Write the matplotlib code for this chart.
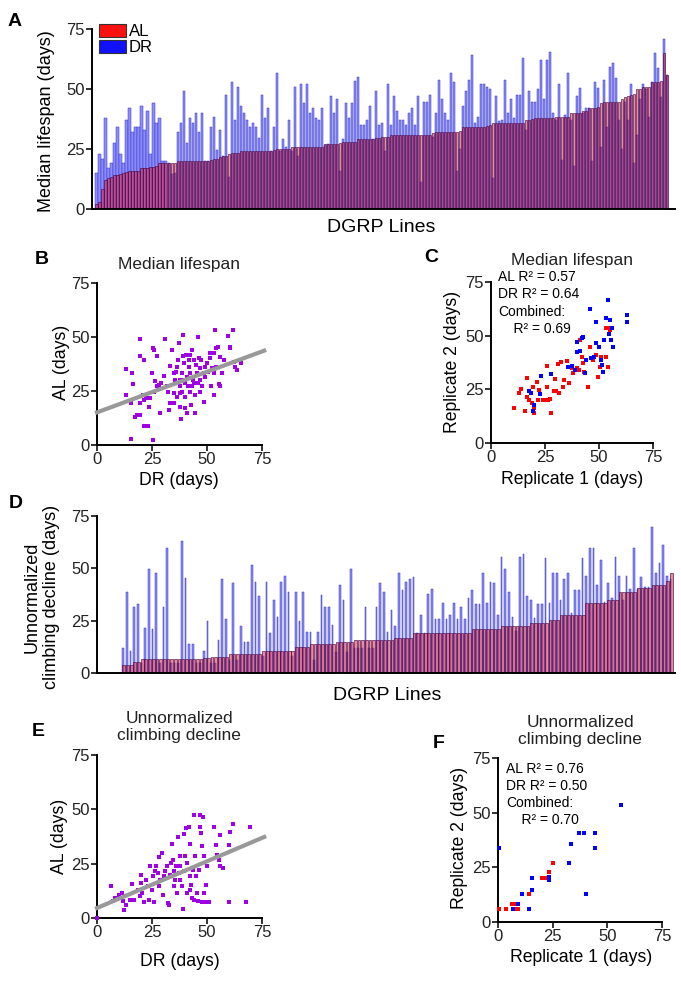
import numpy as np
import matplotlib.pyplot as plt
from matplotlib.patches import Patch

plt.rcParams['font.family'] = ['Liberation Sans', 'DejaVu Sans']

W, H = 681, 984

# ---- A: median lifespan per DGRP line (AL sorted, DR matched) ----
lifespan_al = [
    2, 3, 8.5, 12, 13, 13.5, 14, 14, 14.5, 15, 15.5, 16, 16, 16, 16, 17, 17, 17, 17.5, 17.5,
    18, 19, 19, 19, 19, 19, 19, 20, 20, 20, 20, 20, 20, 20, 20, 20, 20, 20, 20.5, 21,
    21, 21.5, 22, 22, 23, 23.5, 23.5, 23.5, 24, 24, 24, 24, 24, 24, 24, 24, 24, 24, 24, 24.5,
    25, 25, 25, 25, 25, 26, 26, 26, 26, 26, 26, 26, 26, 26, 26, 26, 27, 27, 27, 27,
    27, 27.5, 28, 28, 28, 28, 28, 29, 29, 29, 29, 29, 29, 29.5, 29.5, 30,
    30, 30, 31, 31, 31, 31, 31, 31, 31, 31, 31, 31, 31, 31, 31, 31, 31.5, 32, 32, 32,
    32, 32, 32, 32, 32, 32.5, 34, 34, 34, 34, 34, 34, 34, 34, 34.5, 35, 35.7, 35.7, 35.7, 35.7,
    35.7, 35.7, 35.7, 35.7, 35.7, 35.7, 36, 37, 37, 37.5, 38, 38, 38, 38, 38, 38, 38, 38.5, 38.5, 38.5,
    38.5, 38.5, 40, 40, 40, 40, 41, 41, 42, 42, 42, 42.5, 44, 44.5, 44.5, 44.5, 44.5, 44.5, 44.5, 46,
    46.5, 47, 47.5, 48, 50, 50, 51, 51, 51, 53, 53, 53, 53.5, 65, 56]
lifespan_dr = [
    15, 23, 20.7, 38, 17, 19, 27.6, 34, 23, 19, 37, 42, 32, 34, 34, 43, 33, 41, 23, 44,
    36, 38, 20, 20, 19, 14.6, 15, 32, 36, 49, 27.6, 38, 36, 40, 32, 40, 20, 20, 34, 38.5,
    24.6, 33, 22, 47.5, 13.5, 53, 37, 50.7, 43, 40, 37, 34, 35.7, 34, 29.4, 47.5, 38, 42, 24, 34,
    56.5, 24, 29, 26, 37, 24, 50.7, 22, 52, 44, 52, 40, 42, 38, 37, 42, 26.5, 27, 47, 40,
    46, 16, 29, 44, 38, 44, 53.3, 55, 35, 35, 37, 43, 29, 49, 35, 36,
    24, 52, 35, 47, 41, 37, 37, 35, 40, 42, 35, 47, 11.4, 44.7, 44.7, 47.5, 30, 40, 53.8, 46,
    40, 37, 56.5, 53, 16, 25, 43, 49, 53.8, 64, 35.7, 38.5, 52, 52, 51, 50, 12.8, 47, 36.5, 37,
    53.8, 40, 46, 37.8, 47.5, 47.5, 62.8, 33, 49, 44.7, 44.7, 50, 62, 46, 62, 65.6, 40, 37, 52, 20.4,
    39, 56.5, 37, 18, 47, 50.5, 40, 42, 42, 20, 53, 50.5, 26, 53.8, 34.3, 59.3, 60.7, 54.7, 37, 25,
    44.7, 37, 52, 19, 30.8, 46, 52, 50, 38.5, 53, 65, 58.6, 46.8, 71, 56]

# ---- B: median lifespan, DR vs AL per line ----
b_dr = [13.3, 13.3, 15.9, 16.4, 15.6, 15.5, 17.4, 19.4, 19.4, 19.7, 21.5, 20.8, 21.2, 21.5, 23, 23.5,
        24.2, 25, 25.3, 26, 27.3, 27.3, 25.8, 25.3, 28, 28.5, 30.3, 31.1, 32.3, 32.6, 34.1, 33.3,
        33.3, 34.8, 35.1, 35.6, 36, 36.4, 36.8, 37.1, 37.6, 37.9, 37.9, 38.3, 39.1, 38.6, 39.1, 39.4,
        39.7, 39.8, 40.1, 40.6, 40.9, 41.2, 41.7, 42.1, 42.4, 42.4, 42.7, 43.2, 43.6, 43.9, 44.2, 44.7,
        45.1, 45.5, 45.8, 45.9, 46.2, 46.7, 47, 47.3, 47.7, 48.5, 48.8, 49.2, 50, 50.3, 51.2, 51.2,
        51.8, 52.3, 52.7, 53, 53.3, 53.8, 54.2, 54.2, 54.8, 55.3, 55.8, 56.8, 57.6, 59.4, 60.3, 60.6,
        61.8, 62.1, 62.9, 63.6, 65.5, 34.8, 36.4, 40.9, 44.7, 47, 38.6, 40.1, 41.7, 37.9, 43.2, 49.2,
        56, 53, 31.8, 29.3, 26.5, 22.1, 19.7, 18.2]
b_al = [35.2, 23.2, 33.2, 28.1, 19.3, 2.8, 13.1, 49, 41.4, 19.3, 39.4, 23.2, 20.9, 8.8, 8.8, 17.8,
        21.6, 33.2, 44.8, 44, 41, 27.1, 24.7, 2.3, 27.8, 14.7, 32, 49, 24.7, 16.2, 44, 36.6,
        19.6, 19.3, 24, 30.1, 34, 36.3, 39.4, 47.1, 24, 17.8, 27.5, 11.9, 51, 33.2, 41, 37.9,
        30.1, 22.4, 17, 41.7, 31.7, 27.1, 36.3, 41.7, 33.2, 24.7, 18.6, 44, 30.1, 39.4, 28.6, 23.2,
        37.1, 33.2, 28.6, 50.2, 40.2, 30.1, 35.6, 39.4, 27.1, 20.1, 33.2, 31.7, 37.9, 34, 40.2, 42.5,
        27.1, 35.6, 34.8, 23.2, 33.2, 53.3, 36.3, 44.8, 45.6, 28.3, 27.1, 33.2, 39.4, 50.6, 44.8, 45.3,
        53.3, 38.2, 36.3, 34.5, 37.9, 33.2, 22.4, 14.7, 14.7, 24.7, 24.7, 28.6, 39.4, 30.1, 27.1, 36.3,
        40.7, 42.5, 27.1, 28.6, 29.4, 21.6, 13.9, 13.9]
b_fit = (0.376, 15.1)  # slope, intercept of the grey line

# ---- C: replicate agreement, median lifespan ----
c_al_rep1 = [10.6, 13.9, 13.1, 15.7, 16.8, 16.5, 17.7, 18.8, 19.9, 19.9, 19.6, 21.1, 22.3, 21.9, 24.3,
             25.4, 26.5, 25.7, 26, 27.6, 27.3, 29.1, 29.6, 30.3, 31.1, 31.6, 32.2, 33.4, 33.9, 35,
             36.2, 37.3, 38, 39.6, 40, 40.8, 41.4, 41.9, 42.7, 43, 45, 45.7, 47.3, 48.8, 50.4, 50.7,
             53.1, 53.4, 55, 55.3, 54.2, 49.5]
c_al_rep2 = [16.1, 25, 23.2, 14.7, 30.1, 21.6, 20.1, 18.6, 16.2, 14.2, 26.3, 28.6, 24.7, 20.1, 20.1,
             20.1, 20.1, 26.3, 35.9, 14.2, 20.4, 24, 29.7, 24, 36.8, 23.2, 37.9, 26.3, 29.4, 38.3,
             27.8, 34.8, 32.5, 42.5, 34.8, 34, 47.9, 40.2, 37.1, 33.2, 26.3, 44.5, 38.6, 41, 35.6, 40.2,
             40.2, 53.6, 52.6, 53.8, 35.6, 30.9]
c_dr_rep1 = [17.7, 18.5, 19.9, 19.6, 22.6, 23, 27.6, 35.7, 37.3, 38.8, 39.6, 40, 41.4, 41.9, 42.7,
             43.4, 43.9, 45.7, 46.5, 47.6, 48.8, 50, 51.1, 51.6, 51.9, 52.2, 53.1, 54.2, 55, 54.7,
             55.7, 56.2, 56.5, 63.1, 63.1, 48.8]
c_dr_rep2 = [24, 23.2, 17.8, 14.7, 22.9, 31.2, 32.2, 35.6, 35.9, 34, 47.1, 42.5, 43, 48.7, 49.2,
             32.5, 38.6, 62.6, 39.4, 40.2, 56.4, 44.8, 38.6, 36.3, 33.2, 47.9, 58.4, 66.5, 57.2, 51,
             47.9, 53.8, 44.8, 59.5, 56.4, 46.4]
c_stats = ["AL R\u00b2 = 0.57", "DR R\u00b2 = 0.64", "Combined:", "    R\u00b2 = 0.69"]

# ---- D: unnormalized climbing decline per DGRP line ----
climb_al = [
    3.8, 3.8, 3.8, 5.4, 5.4, 6.7, 6.7, 6.7, 6.7, 6.7, 6.7, 6.7, 6.7, 6.7, 6.7, 6.7, 6.7, 6.7, 6.7, 6.7,
    6.7, 6.7, 7, 7, 7.8, 7.8, 7.8, 7.8, 7.8, 9, 9, 9, 9, 9, 9, 9, 9, 9, 10.7, 10.7,
    10.7, 10.7, 10.7, 10.7, 10.7, 10.7, 10.7, 12.6, 12.6, 12.6, 12.6, 13.9, 13.9, 13.9, 13.9, 13.9, 13.9, 13.9, 15, 15,
    15, 15, 15, 15.8, 15.8, 15.8, 16, 16, 16, 16, 16, 16, 16, 16,
    16.6, 16.6, 16.6, 16.6, 16.6, 19.3, 19.3, 19.3, 19.3, 19.3, 19.3, 19.3, 19.3, 19.3, 19.3, 19.3,
    19.3, 19.3, 19.3, 19.3, 19.3, 20.9, 20.9, 20.9, 20.9, 20.9, 20.9, 20.9, 20.9, 22.4, 22.4, 22.4,
    22.4, 22.4, 22.4, 22.4, 22.4, 24, 24, 24, 24, 24, 25.3, 25.3, 25.3, 27.7, 27.7, 27.7, 27.7, 27.7,
    27.7, 27.7, 33.3, 33.3, 33.3, 33.3, 33.3, 33.3, 35, 35, 35, 38.8, 38.8, 38.8, 38.8, 38.8, 40.4, 40.4,
    40.4, 40.4, 42, 42, 42, 42, 44, 48]
climb_dr = [
    11.8, 38.8, 10.7, 31.7, 33, 5, 21.3, 49.7, 20.9, 47.9, 5, 31.7, 59.9, 5, 5, 5, 63, 45.5, 13.9, 13.9,
    5, 5, 10.7, 25, 5, 5, 15.8, 44.9, 25.6, 6, 42.8, 6, 22.6, 15, 15, 51.6, 43.6, 36.8, 8, 43.6,
    19.3, 34.9, 26.9, 43.6, 46.3, 38.8, 8, 38.8, 25, 38.8, 19.7, 19.7, 6, 19.7, 37.3, 31.7, 31.7, 22.9, 10, 42,
    34.9, 10, 49.7, 12, 12, 12, 31.7, 12, 12, 31.4, 42.8, 38.8, 19.7, 30,
    22.4, 47.9, 39.6, 43.6, 44.7, 46, 18.9, 27.7, 18.9, 37.6, 40, 25.6, 25.6, 33.6, 25.6, 27.7,
    33.6, 25.6, 31.7, 25.6, 35.7, 39.6, 32.8, 32.8, 47.9, 33.6, 43.6, 42.8, 27.7, 55.6, 49.5, 38.8,
    26.9, 20, 55.6, 56.8, 36.8, 34.9, 26.1, 32.8, 32.8, 54.8, 33.6, 47.9, 47.9, 34.9, 44.7, 47.9,
    28.5, 39.6, 39.6, 54.8, 46.3, 59.9, 59.9, 42, 54, 34, 42.8, 36, 55.6, 46.3, 35, 46.3, 40, 59.5,
    40, 46, 41, 41, 69.6, 47.9, 52.4, 61, 46.3, 45]

# ---- E: climbing decline, DR vs AL ----
e_dr = [0, 6.4, 7.3, 8.3, 9.8, 11.4, 11.8, 12.4, 13.3, 14.8, 15.9, 16.7, 18.5, 20, 20, 20.5, 21.2,
        22.4, 23, 23.5, 24.2, 25, 25.8, 26.5, 27, 27.6, 28, 28.5, 30, 30.3, 31.8, 32.1, 32.6, 33,
        33.6, 34.1, 34.5, 34.8, 35.1, 35.6, 36.1, 36.4, 36.8, 37.1, 37.6, 37.9, 38.6, 39.1, 39.4,
        39.7, 40.1, 40.6, 40.9, 41.7, 42.1, 42.4, 42.7, 43.2, 43.6, 43.9, 44.2, 44.7, 45.1, 45.5,
        45.8, 46.2, 46.7, 47, 47.3, 47.7, 47.7, 48.2, 48.5, 48.8, 49.2, 49.7, 50, 50.3, 50.8, 53,
        54.2, 54.5, 55.3, 56, 56, 57.3, 59.8, 60.3, 60.1, 61.8, 67.9, 69.7, 29.5, 31, 37.9, 28,
        25.5, 19.7, 40.9, 42.4]
e_al = [0, 14.5, 7.7, 9.2, 10.7, 11.5, 7.7, 3.8, 6.1, 8.4, 15.8, 8.4, 13, 19.9, 16.1, 11.5, 7.2,
        17.6, 14.5, 8.4, 23.7, 13, 7.2, 21.4, 23.7, 20.7, 28, 17.6, 10.7, 19.1, 23.7, 6.9, 6.1, 19.9,
        25.2, 34.1, 26.8, 14.5, 21.4, 17.6, 23.7, 11.5, 37.5, 20.7, 17.6, 23.7, 14.5, 4.1, 21.4,
        38.7, 28.3, 41.3, 11.5, 42.1, 19.1, 34.1, 15.3, 9.2, 22.2, 47.4, 8.4, 28.3, 19.1, 11.5,
        7.7, 22.2, 47.4, 42.1, 39, 32.9, 7.2, 46.7, 28.3, 11.5, 7.2, 15.3, 23.7, 7.2, 7.2, 42.1,
        33.7, 29.1, 26.8, 23.7, 38.2, 23, 33.7, 39.8, 7.2, 43.3, 7.2, 42.1, 29.8, 21.4, 28.3, 14.5,
        19.1, 9.9, 25.2, 13]
e_fit = (0.43, 4.6)

# ---- F: replicate agreement, climbing decline ----
f_al_rep1 = [0.5, 3.8, 6.6, 7.7, 8.5, 9.2, 14.1, 20, 21.1, 22.3, 23.1, 25.1]
f_al_rep2 = [5.8, 5.8, 8.1, 8.1, 5.8, 5.8, 13, 19.9, 19.9, 19.9, 22.9, 26.8]
f_dr_rep1 = [0.5, 6.9, 9.2, 11.2, 14.1, 15.4, 15.4, 23.1, 23.1, 32.3, 33.4, 36.9, 39.5, 40.3, 44.3, 44.3, 56.4]
f_dr_rep2 = [34, 5.8, 8.1, 13, 5.8, 19.9, 14.8, 20.7, 19.4, 26.8, 35.6, 40.9, 40.9, 13, 40.9, 33.8, 53.6]
f_stats = ["AL R\u00b2 = 0.76", "DR R\u00b2 = 0.50", "Combined:", "    R\u00b2 = 0.70"]

ticks = [0, 25, 50, 75]
PURPLE = '#a000e6'
GREY = '#999999'


def px_axes(fig, left, top, right, bottom):
    return fig.add_axes([left / W, 1 - bottom / H, (right - left) / W, (bottom - top) / H])


def fig_text(fig, x, y, s, **kw):
    fig.text(x / W, 1 - y / H, s, **kw)


def style(ax, xticks=True):
    for side in ['top', 'right']:
        ax.spines[side].set_visible(False)
    for side in ['left', 'bottom']:
        ax.spines[side].set_linewidth(1.4)
    ax.set_ylim(0, 75)
    ax.set_yticks(ticks)
    ax.tick_params(direction='out', length=4, width=1.3, labelsize=12, pad=1, colors='#222222')
    if xticks:
        ax.set_xlim(0, 75)
        ax.set_xticks(ticks)
    else:
        ax.tick_params(axis='x', bottom=False, labelbottom=False)


def bars(ax, al, dr, dr_shift=0.0, dr_width=0.7, al_width=0.7):
    x = np.arange(len(al))
    ax.bar(x + dr_shift, dr, width=dr_width, color='#8c8cff', edgecolor='#3535c0', linewidth=0.35)
    ax.bar(x, al, width=al_width, color=(0.86, 0.1, 0.2, 0.5), edgecolor='#4a0a4a', linewidth=0.45)


def scatter_xy(ax, x, y, color):
    ax.scatter(x, y, s=10, marker='s', color=color, linewidths=0, clip_on=False, zorder=3)


fig = plt.figure(figsize=(W / 100, H / 100), dpi=100)

# A
axA = px_axes(fig, 92, 29, 675, 209)
bars(axA, lifespan_al, lifespan_dr)
style(axA, xticks=False)
axA.set_xlim(-1.5, len(lifespan_al) + 1.7)
axA.legend(handles=[Patch(facecolor='#ff1010', edgecolor='#333333', linewidth=0.8),
                    Patch(facecolor='#1010ff', edgecolor='#333333', linewidth=0.8)],
           labels=['AL', 'DR'], loc='upper left', bbox_to_anchor=(99 / W, 1 - 24 / H),
           bbox_transform=fig.transFigure, frameon=False, fontsize=12, handlelength=1.6,
           handleheight=0.8, handletextpad=0.2, labelspacing=0.05, borderpad=0, borderaxespad=0)
fig_text(fig, 47, 121, 'Median lifespan (days)', rotation=90, ha='center', va='center', fontsize=13)
fig_text(fig, 381, 227, 'DGRP Lines', ha='center', va='center', fontsize=14)

# B
axB = px_axes(fig, 97, 283, 262, 445)
scatter_xy(axB, b_dr, b_al, PURPLE)
fx = np.array([0, 76])
axB.plot(fx, b_fit[0] * fx + b_fit[1], color=GREY, lw=3, zorder=4, clip_on=False)
style(axB)
fig_text(fig, 179, 265, 'Median lifespan', ha='center', va='center', fontsize=12.5, color='#222222')
fig_text(fig, 61, 362, 'AL (days)', rotation=90, ha='center', va='center', fontsize=12.7)
fig_text(fig, 179, 481, 'DR (days)', ha='center', va='center', fontsize=12.7)

# C
axC = px_axes(fig, 491, 282, 653, 443)
scatter_xy(axC, c_al_rep1, c_al_rep2, '#ff0000')
scatter_xy(axC, c_dr_rep1, c_dr_rep2, '#0000ff')
style(axC)
fig_text(fig, 572, 261, 'Median lifespan', ha='center', va='center', fontsize=12.5, color='#222222')
for i, s in enumerate(c_stats):
    fig_text(fig, 498, 277 + 17.3 * i, s, ha='left', va='center', fontsize=10)
fig_text(fig, 453, 362, 'Replicate 2 (days)', rotation=90, ha='center', va='center', fontsize=12.7)
fig_text(fig, 572, 479, 'Replicate 1 (days)', ha='center', va='center', fontsize=12.7)

# D
axD = px_axes(fig, 97, 516, 675, 673)
bars(axD, climb_al, climb_dr, dr_shift=-0.2, dr_width=0.45, al_width=0.75)
style(axD, xticks=False)
axD.set_xlim(-7.3, len(climb_al))
fig_text(fig, 42, 597, 'Unnormalized\nclimbing decline (days)', rotation=90, ha='center',
         va='center', fontsize=13, linespacing=1.15)
fig_text(fig, 387, 695, 'DGRP Lines', ha='center', va='center', fontsize=14)

# E
axE = px_axes(fig, 97, 755, 262, 918)
scatter_xy(axE, e_dr, e_al, PURPLE)
axE.plot(fx, e_fit[0] * fx + e_fit[1], color=GREY, lw=3, zorder=4, clip_on=False)
style(axE)
fig_text(fig, 179, 727, 'Unnormalized\nclimbing decline', ha='center', va='center',
         fontsize=12.5, color='#222222', linespacing=1.2)
fig_text(fig, 60, 836, 'AL (days)', rotation=90, ha='center', va='center', fontsize=12.7)
fig_text(fig, 180, 961, 'DR (days)', ha='center', va='center', fontsize=12.7)

# F
axF = px_axes(fig, 498, 758, 662, 922)
scatter_xy(axF, f_al_rep1, f_al_rep2, '#ff0000')
scatter_xy(axF, f_dr_rep1, f_dr_rep2, '#0000ff')
style(axF)
fig_text(fig, 580, 731, 'Unnormalized\nclimbing decline', ha='center', va='center',
         fontsize=12.5, color='#222222', linespacing=1.2)
for i, s in enumerate(f_stats):
    fig_text(fig, 506, 769 + 17 * i, s, ha='left', va='center', fontsize=10)
fig_text(fig, 460, 838, 'Replicate 2 (days)', rotation=90, ha='center', va='center', fontsize=12.7)
fig_text(fig, 581, 958, 'Replicate 1 (days)', ha='center', va='center', fontsize=12.7)

# panel letters
for letter, (x, y) in zip('ABCDEF', [(15, 21), (42, 260), (431, 257), (16, 503), (38, 731), (439, 744)]):
    fig_text(fig, x, y, letter, ha='center', va='center', fontsize=14, fontweight='bold')

fig.savefig('out.png', dpi=100)
